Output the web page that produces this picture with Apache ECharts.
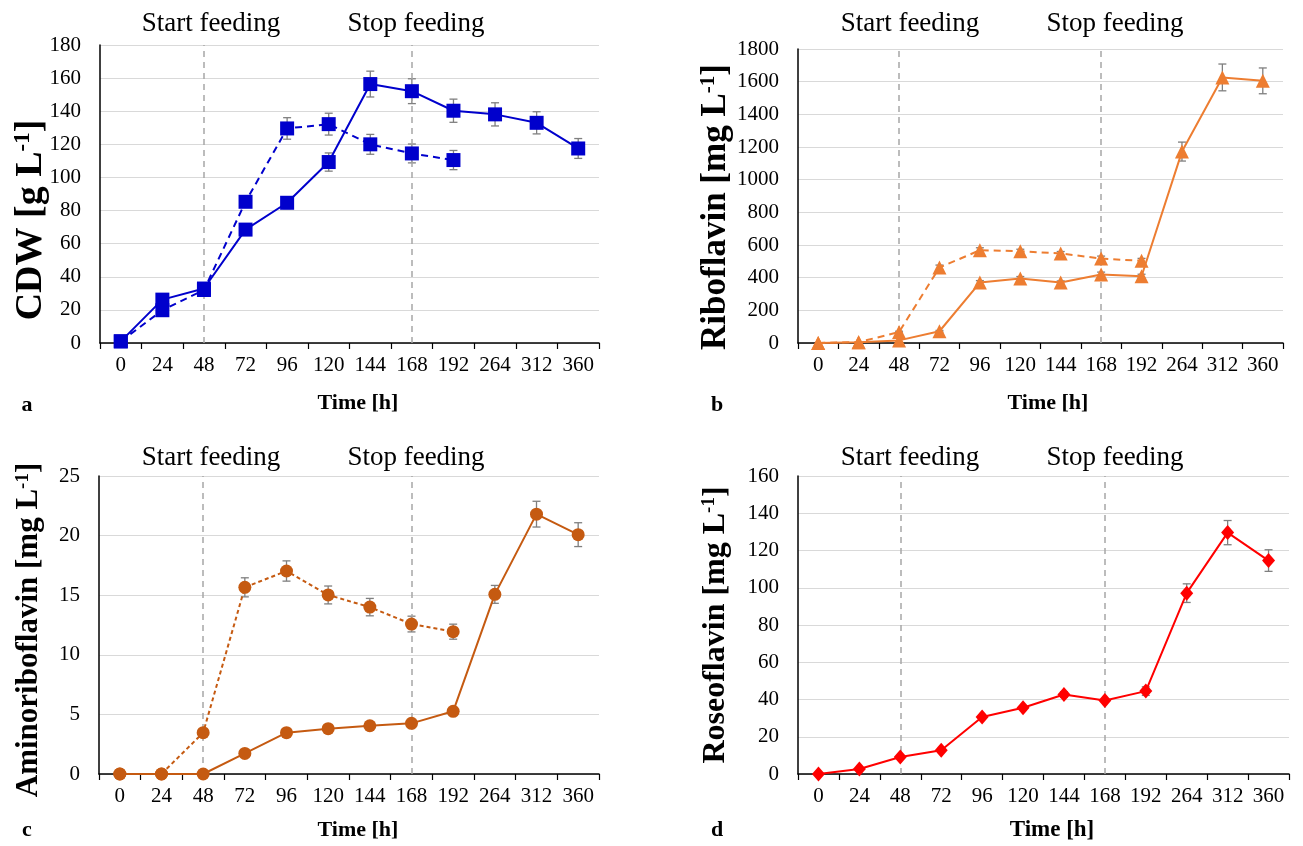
<!DOCTYPE html>
<html>
<head>
<meta charset="utf-8">
<script src="https://cdn.jsdelivr.net/npm/echarts@6/dist/echarts.min.js"></script>
<style>
html,body{margin:0;padding:0;background:#fff;}
#chart{width:1303px;height:846px;}
</style>
</head>
<body>
<div id="chart"></div>
<script>
// ---- data ----
const timeLabels = ['0','24','48','72','96','120','144','168','192','264','312','360'];

const cdwSolid    = [1, 26.2, 32.9, 68.5, 84.7, 109.3, 156.4, 152.1, 140.3, 138.1, 133, 117.5];
const cdwSolidErr = [0.5, 1.5, 2, 2, 3.5, 5.5, 7.8, 7.5, 7, 7, 6.7, 6];
const cdwDash     = [1, 19.8, 32, 85.3, 129.6, 132.2, 120, 114.5, 110.5, null, null, null];
const cdwDashErr  = [0.5, 1.5, 2, 2.5, 6.5, 6.6, 6, 5.7, 5.8, null, null, null];

const ribSolid    = [0, 5, 16, 72, 370, 395, 370, 419, 409, 1172, 1626, 1605];
const ribSolidErr = [0, 0, 0, 5, 12, 12, 10, 15, 12, 58, 82, 79];
const ribDash     = [0, 5, 67, 462, 568, 562, 548, 517, 503, null, null, null];
const ribDashErr  = [0, 0, 5, 15, 15, 12, 12, 15, 15, null, null, null];

const amiSolid    = [0, 0, 0, 1.73, 3.47, 3.8, 4.05, 4.25, 5.26, 15.07, 21.8, 20.08];
const amiSolidErr = [0, 0, 0, 0, 0, 0, 0, 0, 0, 0.75, 1.08, 1.0];
const amiDash     = [0, 0, 3.47, 15.66, 17.03, 15.02, 14.0, 12.58, 11.94, null, null, null];
const amiDashErr  = [0, 0, 0.2, 0.8, 0.85, 0.75, 0.73, 0.66, 0.63, null, null, null];

const rosSolid    = [0, 2.7, 9.1, 12.7, 30.6, 35.6, 42.7, 39.5, 44.5, 97.1, 129.6, 114.6];
const rosSolidErr = [0, 0, 0, 0, 0.5, 0.5, 1.5, 1, 2.3, 5, 6.5, 5.8];

const feedMarks = ['48', '168'];
const feedTexts = ['Start feeding', 'Stop feeding'];

// ---- styling helpers ----
const FF = 'Liberation Serif';
const grids = [
  {left:100, top:45,  width:499, height:298},
  {left:798, top:49,  width:485, height:294},
  {left:99,  top:476, width:500, height:298},
  {left:798, top:476, width:491, height:298}
];
const yCfg = [
  {max:180, interval:20},
  {max:1800, interval:200},
  {max:25, interval:5},
  {max:160, interval:20}
];

function xAxis(i){
  return {
    type:'category', gridIndex:i, data:timeLabels, boundaryGap:true,
    axisLine:{show:true, lineStyle:{color:'#000', width:1.5}},
    axisTick:{show:true, length:6, lineStyle:{color:'#000', width:1.2}},
    axisLabel:{interval:0, fontFamily:FF, fontSize:21, color:'#000', margin:12},
    splitLine:{show:false}
  };
}
function yAxis(i){
  return {
    type:'value', gridIndex:i, min:0, max:yCfg[i].max, interval:yCfg[i].interval,
    axisLine:{show:true, lineStyle:{color:'#000', width:1.5}},
    axisTick:{show:false},
    axisLabel:{fontFamily:FF, fontSize:21, color:'#000', margin:19, formatter:function(v){ return String(v); }},
    splitLine:{show:true, lineStyle:{color:'#D9D9D9', width:1.2}}
  };
}
function lineSeries(i, data, color, symbol, size, dashed){
  return {
    type:'line', xAxisIndex:i, yAxisIndex:i, data:data,
    symbol:symbol, symbolSize:size, showSymbol:true,
    itemStyle:{color:color},
    lineStyle:{color:color, width:2, type: dashed ? dashed : 'solid'},
    connectNulls:false, animation:false, z:5
  };
}
function markSeries(i){
  return {
    type:'line', xAxisIndex:i, yAxisIndex:i, data:[], animation:false,
    markLine:{
      silent:true, symbol:['none','none'], label:{show:false},
      lineStyle:{type:[6,5], color:'#A6A6A6', width:1.5},
      data: feedMarks.map(m => ({xAxis:m}))
    }
  };
}
function errSeries(i, vals, errs){
  const d = [];
  vals.forEach((v, k) => { if (v !== null && errs[k]) d.push([k, v, errs[k]]); });
  return {
    type:'custom', xAxisIndex:i, yAxisIndex:i, data:d, animation:false, z:3,
    encode:{x:0, y:1},
    renderItem:function(params, api){
      const k = api.value(0), v = api.value(1), e = api.value(2);
      const top = api.coord([k, v + e]);
      const bot = api.coord([k, v - e]);
      const w = 4;
      const st = {stroke:'#7F7F7F', lineWidth:1.3};
      return {type:'group', children:[
        {type:'line', shape:{x1:top[0], y1:top[1], x2:bot[0], y2:bot[1]}, style:st},
        {type:'line', shape:{x1:top[0]-w, y1:top[1], x2:top[0]+w, y2:top[1]}, style:st},
        {type:'line', shape:{x1:bot[0]-w, y1:bot[1], x2:bot[0]+w, y2:bot[1]}, style:st}
      ]};
    }
  };
}

const blue = '#0000CC', orange = '#ED7D31', brown = '#C55A11', red = '#FF0000';

const series = [
  markSeries(0), markSeries(1), markSeries(2), markSeries(3),
  errSeries(0, cdwSolid, cdwSolidErr), errSeries(0, cdwDash, cdwDashErr),
  errSeries(1, ribSolid, ribSolidErr), errSeries(1, ribDash, ribDashErr),
  errSeries(2, amiSolid, amiSolidErr), errSeries(2, amiDash, amiDashErr),
  errSeries(3, rosSolid, rosSolidErr),
  lineSeries(0, cdwDash, blue, 'rect', 14, [7,5]),
  lineSeries(0, cdwSolid, blue, 'rect', 14),
  lineSeries(1, ribDash, orange, 'triangle', 14, [7,5]),
  lineSeries(1, ribSolid, orange, 'triangle', 14),
  lineSeries(2, amiDash, brown, 'circle', 13, [4,3]),
  lineSeries(2, amiSolid, brown, 'circle', 13),
  lineSeries(3, rosSolid, red, 'diamond', [13,15])
];

// ---- text decorations ----
function txt(x, y, text, size, bold){
  return {type:'text', x:x, y:y, silent:true, style:{text:text, fontFamily:FF, fontSize:size,
    fontWeight: bold ? 'bold' : 'normal', fill:'#000', align:'center', verticalAlign:'middle'}};
}
function ytitle(x, y, main, unit, size){
  return {type:'text', x:x, y:y, rotation:Math.PI/2, silent:true, style:{
    text:'{b|' + main + ' [' + unit + ' L}{s|-1}{b|]}',
    align:'center', verticalAlign:'middle',
    rich:{
      b:{fontFamily:FF, fontSize:size, fontWeight:'bold', fill:'#000', verticalAlign:'bottom', lineHeight:size},
      s:{fontFamily:FF, fontSize:Math.round(size*0.6), fontWeight:'bold', fill:'#000', verticalAlign:'top', lineHeight:size}
    }
  }};
}
const graphics = [];
const feedPos = [
  [[211,24],[416,24]],
  [[910,24],[1115,24]],
  [[211,458],[416,458]],
  [[910,458],[1115,458]]
];
feedPos.forEach(p => { graphics.push(txt(p[0][0], p[0][1], feedTexts[0], 27)); graphics.push(txt(p[1][0], p[1][1], feedTexts[1], 27)); });
[[358,403,22],[1048,403,22],[358,830,22],[1052,830,23]].forEach(p => graphics.push(txt(p[0], p[1], 'Time [h]', p[2], true)));
[['a',27,405],['b',717,405],['c',27,830],['d',717,830]].forEach(p => graphics.push(txt(p[1], p[2], p[0], 22, true)));
graphics.push(ytitle(31, 220, 'CDW', 'g', 38));
graphics.push(ytitle(716, 207, 'Riboflavin', 'mg', 35));
graphics.push(ytitle(29, 630, 'Aminoriboflavin', 'mg', 31));
graphics.push(ytitle(716, 625, 'Roseoflavin', 'mg', 32));

const chart = echarts.init(document.getElementById('chart'), null, {renderer:'canvas'});
chart.setOption({
  animation:false,
  backgroundColor:'#fff',
  grid: grids,
  xAxis: [0,1,2,3].map(xAxis),
  yAxis: [0,1,2,3].map(yAxis),
  series: series,
  graphic: graphics
});
</script>
</body>
</html>
